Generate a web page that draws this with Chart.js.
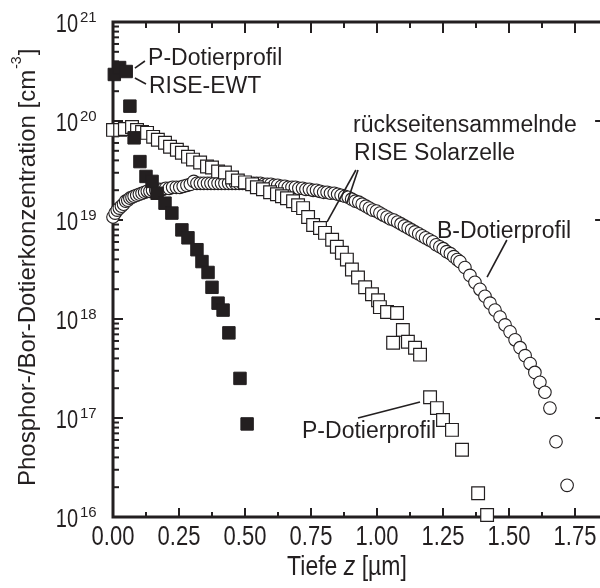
<!DOCTYPE html>
<html>
<head>
<meta charset="utf-8">
<script src="https://cdn.jsdelivr.net/npm/chart.js@4/dist/chart.umd.min.js"></script>
<style>
  html, body { margin: 0; padding: 0; background: #fff; }
  #wrap { width: 600px; height: 588px; overflow: hidden; }
  canvas { display: block; }
</style>
</head>
<body>
<div id="wrap"><canvas id="profile" width="616" height="588"></canvas></div>
<script>
// depth in µm, concentration given as log10(cm^-3)
const ewtDepth = [0.005, 0.025, 0.05, 0.064, 0.08, 0.102, 0.125, 0.148, 0.167, 0.197, 0.223,
  0.261, 0.284, 0.318, 0.337, 0.36, 0.375, 0.398, 0.417, 0.439, 0.481, 0.508];
const ewtLogConc = [20.47, 20.54, 20.50, 20.15, 19.83, 19.59, 19.44, 19.39, 19.27, 19.17, 19.07,
  18.90, 18.82, 18.70, 18.58, 18.47, 18.32, 18.16, 18.09, 17.86, 17.40, 16.94];

const rearDepth = [0.000, 0.027, 0.045, 0.072, 0.091, 0.110, 0.129, 0.152, 0.170, 0.197,
  0.216, 0.242, 0.261, 0.284, 0.303, 0.330, 0.356, 0.375, 0.398, 0.424,
  0.451, 0.473, 0.500, 0.527, 0.545, 0.568, 0.595, 0.621, 0.640, 0.659,
  0.682, 0.701, 0.720, 0.739, 0.758, 0.784, 0.803, 0.830, 0.848, 0.867,
  0.886, 0.905, 0.928, 0.955, 0.981, 1.004, 1.011, 1.038, 1.076, 1.098,
  1.061, 1.117, 1.144, 1.163, 1.201, 1.227, 1.250, 1.284, 1.322, 1.383, 1.417];
const rearLogConc = [19.91, 19.91, 19.92, 19.94, 19.91, 19.89, 19.88, 19.84, 19.81, 19.78,
  19.74, 19.71, 19.68, 19.64, 19.61, 19.58, 19.54, 19.53, 19.49, 19.48,
  19.43, 19.40, 19.38, 19.36, 19.33, 19.31, 19.28, 19.26, 19.24, 19.22,
  19.19, 19.15, 19.12, 19.03, 18.95, 18.92, 18.87, 18.80, 18.73, 18.67,
  18.60, 18.50, 18.42, 18.32, 18.25, 18.19, 18.12, 18.07, 18.06, 17.89,
  17.76, 17.77, 17.71, 17.64, 17.21, 17.10, 16.98, 16.88, 16.68, 16.24, 16.02];

const boronDepth = [0.000, 0.008, 0.016, 0.024, 0.032, 0.040, 0.048, 0.056, 0.064, 0.072,
  0.080, 0.090, 0.100, 0.110, 0.120, 0.130, 0.140, 0.150, 0.162, 0.175,
  0.188, 0.200, 0.213, 0.226, 0.240, 0.253, 0.266, 0.280, 0.293, 0.306,
  0.318, 0.331, 0.344, 0.358, 0.371, 0.384, 0.398, 0.411, 0.424, 0.438,
  0.451, 0.464, 0.478, 0.491, 0.504, 0.518, 0.531, 0.544, 0.558, 0.571,
  0.584, 0.598, 0.611, 0.624, 0.638, 0.651, 0.664, 0.678, 0.691, 0.704,
  0.718, 0.731, 0.744, 0.758, 0.771, 0.784, 0.798, 0.811, 0.824, 0.838,
  0.851, 0.864, 0.878, 0.891, 0.904, 0.918, 0.931, 0.944, 0.958, 0.971,
  0.984, 0.998, 1.011, 1.024, 1.038, 1.051, 1.064, 1.078, 1.091, 1.104,
  1.118, 1.131, 1.144, 1.158, 1.171, 1.184, 1.198, 1.211, 1.224, 1.238,
  1.251, 1.264, 1.278, 1.291, 1.304, 1.314, 1.333, 1.352, 1.371, 1.390,
  1.409, 1.428, 1.447, 1.466, 1.485, 1.504, 1.523, 1.542, 1.561, 1.580,
  1.598, 1.617, 1.636, 1.655, 1.678, 1.720];
const boronLogConc = [19.03, 19.07, 19.10, 19.12, 19.14, 19.16, 19.19, 19.20, 19.22, 19.23,
  19.24, 19.25, 19.26, 19.27, 19.28, 19.29, 19.29, 19.30, 19.30, 19.31,
  19.31, 19.32, 19.32, 19.33, 19.33, 19.33, 19.34, 19.35, 19.36, 19.39,
  19.37, 19.37, 19.37, 19.37, 19.37, 19.37, 19.37, 19.37, 19.37, 19.37,
  19.37, 19.37, 19.37, 19.37, 19.37, 19.37, 19.37, 19.37, 19.37, 19.36,
  19.36, 19.36, 19.35, 19.35, 19.34, 19.34, 19.33, 19.33, 19.33, 19.32,
  19.32, 19.31, 19.31, 19.30, 19.30, 19.29, 19.28, 19.28, 19.27, 19.27,
  19.26, 19.25, 19.24, 19.23, 19.21, 19.19, 19.18, 19.16, 19.14, 19.12,
  19.10, 19.09, 19.07, 19.05, 19.03, 19.01, 19.00, 18.98, 18.96, 18.94,
  18.92, 18.90, 18.88, 18.86, 18.84, 18.82, 18.80, 18.78, 18.75, 18.73,
  18.71, 18.68, 18.66, 18.63, 18.60, 18.58, 18.52, 18.44, 18.37, 18.30,
  18.23, 18.16, 18.09, 18.02, 17.94, 17.87, 17.79, 17.71, 17.63, 17.55,
  17.46, 17.36, 17.26, 17.10, 16.76, 16.32];

const xTicks = [0, 0.25, 0.5, 0.75, 1.0, 1.25, 1.5, 1.75];
const xTickLabels = ['0.00', '0.25', '0.50', '0.75', '1.00', '1.25', '1.50', '1.75'];
const yDecades = [16, 17, 18, 19, 20, 21];

// text notes, anchored in data units (depth, log10 conc)
const notes = [
  { text: 'P-Dotierprofil', at: [0.133, 20.566] },
  { text: 'RISE-EWT', at: [0.136, 20.283] },
  { text: 'rückseitensammelnde', at: [0.909, 19.889] },
  { text: 'RISE Solarzelle', at: [0.913, 19.606] },
  { text: 'B-Dotierprofil', at: [1.227, 18.818] },
  { text: 'P-Dotierprofil', at: [0.716, 16.798] }
];
const leaders = [
  [[0.083, 20.535], [0.121, 20.606]],
  [[0.083, 20.434], [0.125, 20.374]],
  [[0.928, 19.505], [0.886, 19.172]],
  [[0.920, 19.505], [0.811, 18.980]],
  [[1.492, 18.798], [1.417, 18.424]],
  [[0.928, 17.000], [1.163, 17.162]]
];

const INK = '#231f20';
const FONT = '"Liberation Sans", Arial, Helvetica, sans-serif';

const pairs = (xs, logs) => xs.map((d, i) => ({ x: d, y: Math.pow(10, logs[i]) }));

// text squeezed like the original figure (taller than wide)
function tallText(ctx, text, x, y, size, sy, align, style) {
  ctx.save();
  ctx.font = (style ? style + ' ' : '') + size + 'px ' + FONT;
  ctx.textAlign = align || 'left';
  ctx.textBaseline = 'alphabetic';
  ctx.translate(x, y);
  ctx.scale(1, sy);
  ctx.fillText(text, 0, 0);
  ctx.restore();
}

function seg(ctx, x1, y1, x2, y2) {
  ctx.beginPath();
  ctx.moveTo(x1, y1);
  ctx.lineTo(x2, y2);
  ctx.stroke();
}

const frame = {
  id: 'frame',
  beforeDatasetsDraw(chart) {
    const { ctx, chartArea: a, scales: { x, y } } = chart;
    ctx.save();
    ctx.strokeStyle = INK;
    ctx.lineWidth = 2;
    xTicks.forEach(v => {
      const px = x.getPixelForValue(v);
      seg(ctx, px, a.bottom, px, a.bottom - 9);
      seg(ctx, px, a.top, px, a.top + 11);
      const pm = x.getPixelForValue(v + 0.125);
      if (pm < a.right) {
        seg(ctx, pm, a.bottom, pm, a.bottom - 5);
        seg(ctx, pm, a.top, pm, a.top + 6);
      }
    });
    yDecades.forEach(e => {
      const py = y.getPixelForValue(Math.pow(10, e));
      seg(ctx, a.left, py, a.left + 10, py);
      seg(ctx, a.right, py, a.right - 10, py);
      if (e < 21) {
        for (let m = 2; m <= 9; m++) {
          const pm = y.getPixelForValue(m * Math.pow(10, e));
          seg(ctx, a.left, pm, a.left + 6, pm);
          seg(ctx, a.right, pm, a.right - 5, pm);
        }
      }
    });
    ctx.lineWidth = 3;
    ctx.strokeRect(a.left, a.top, a.right - a.left, a.bottom - a.top);
    ctx.restore();
  },
  afterDatasetsDraw(chart) {
    const { ctx, chartArea: a, scales: { x, y } } = chart;
    ctx.save();
    ctx.fillStyle = INK;
    ctx.strokeStyle = INK;

    // x tick labels
    xTicks.forEach((v, i) => {
      tallText(ctx, xTickLabels[i], x.getPixelForValue(v), a.bottom + 28, 22, 1.25, 'center');
    });
    // y tick labels 10^n
    yDecades.forEach(e => {
      const py = y.getPixelForValue(Math.pow(10, e));
      tallText(ctx, '10', a.left - 35, py + 9.5, 20, 1.3, 'right');
      tallText(ctx, String(e), a.left - 33, py, 15, 1.0, 'left');
    });

    // x title with italic z
    ctx.font = '23px ' + FONT;
    const w1 = ctx.measureText('Tiefe ').width;
    const w3 = ctx.measureText(' [µm]').width;
    ctx.font = 'italic 23px ' + FONT;
    const w2 = ctx.measureText('z').width;
    const tx = 347 - (w1 + w2 + w3) / 2;
    tallText(ctx, 'Tiefe ', tx, 575, 23, 1.2, 'left');
    tallText(ctx, 'z', tx + w1, 575, 23, 1.2, 'left', 'italic');
    tallText(ctx, ' [µm]', tx + w1 + w2, 575, 23, 1.2, 'left');

    // y title, rotated, with cm^-3
    ctx.save();
    ctx.translate(35, 486);
    ctx.rotate(-Math.PI / 2);
    ctx.textAlign = 'left';
    ctx.textBaseline = 'alphabetic';
    ctx.font = '24px ' + FONT;
    const main = 'Phosphor-/Bor-Dotierkonzentration [cm';
    ctx.fillText(main, 0, 0);
    const wm = ctx.measureText(main).width;
    ctx.font = '14px ' + FONT;
    ctx.fillText('-3', wm + 1, -14);
    const ws = ctx.measureText('-3').width;
    ctx.font = '24px ' + FONT;
    ctx.fillText(']', wm + ws + 2, 0);
    ctx.restore();

    // notes and leader lines
    notes.forEach(n => {
      tallText(ctx, n.text, x.getPixelForValue(n.at[0]), y.getPixelForValue(Math.pow(10, n.at[1])), 23, 1.05, 'left');
    });
    ctx.lineWidth = 1.6;
    leaders.forEach(([p, q]) => {
      seg(ctx, x.getPixelForValue(p[0]), y.getPixelForValue(Math.pow(10, p[1])),
        x.getPixelForValue(q[0]), y.getPixelForValue(Math.pow(10, q[1])));
    });
    ctx.restore();
  }
};

new Chart(document.getElementById('profile'), {
  type: 'scatter',
  data: {
    datasets: [
      {
        label: 'P-Dotierprofil RISE-EWT',
        data: pairs(ewtDepth, ewtLogConc),
        pointStyle: 'rect', pointRadius: 8.8,
        backgroundColor: INK, borderColor: INK, borderWidth: 1,
        clip: false
      },
      {
        label: 'P-Dotierprofil rückseitensammelnde RISE Solarzelle',
        data: pairs(rearDepth, rearLogConc),
        pointStyle: 'rect', pointRadius: 9,
        backgroundColor: '#fff', borderColor: INK, borderWidth: 1.2,
        clip: false
      },
      {
        label: 'B-Dotierprofil',
        data: pairs(boronDepth, boronLogConc),
        pointStyle: 'circle', pointRadius: 6.3,
        backgroundColor: '#fff', borderColor: INK, borderWidth: 1.1,
        clip: false
      }
    ]
  },
  options: {
    responsive: false,
    animation: false,
    events: [],
    layout: { padding: { left: 113, top: 22, right: 10.9, bottom: 71 } },
    plugins: { legend: { display: false }, tooltip: { enabled: false } },
    scales: {
      x: { type: 'linear', min: 0, max: 1.864, display: false },
      y: { type: 'logarithmic', min: 1e16, max: 1e21, display: false }
    }
  },
  plugins: [frame]
});
</script>
</body>
</html>
